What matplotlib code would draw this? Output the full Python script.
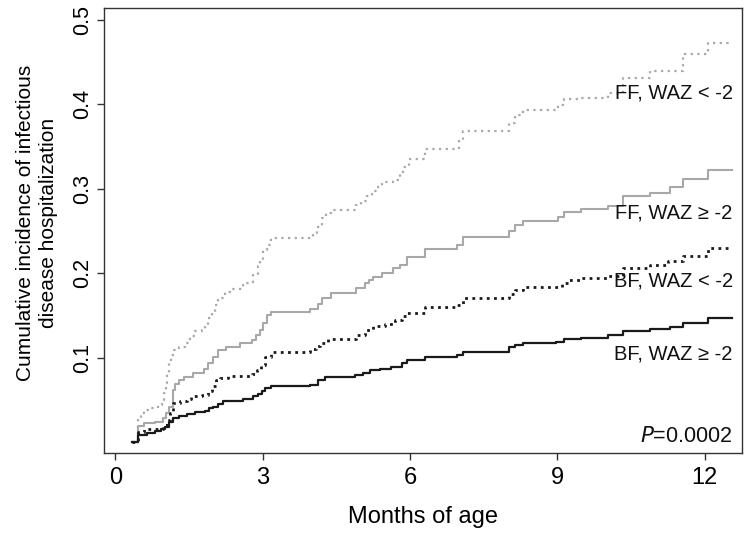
import matplotlib
matplotlib.use("Agg")
import matplotlib.pyplot as plt

plt.rcParams['font.family'] = ['Liberation Sans', 'DejaVu Sans']

# --- data (months of age, cumulative incidence) ---
# BF, WAZ >= -2 (black solid)
t_bf_hi = [0.35, 0.46, 0.64, 0.81, 0.94, 1.02, 1.10, 1.18, 1.29, 1.45,
           1.62, 1.83, 1.90, 1.99, 2.09, 2.20, 2.43, 2.60, 2.81, 2.90,
           2.98, 3.05, 3.18, 3.96, 4.13, 4.27, 4.88, 5.05, 5.19, 5.39,
           5.62, 5.83, 5.93, 6.30, 6.95, 7.08, 8.02, 8.14, 8.30, 8.98,
           9.14, 9.49, 10.04, 10.34, 10.88, 11.29, 11.56, 12.07, 12.55]
v_bf_hi = [0, 0.008, 0.011, 0.013, 0.015, 0.018, 0.024, 0.028, 0.031, 0.033,
           0.035, 0.037, 0.040, 0.042, 0.045, 0.048, 0.049, 0.051, 0.054, 0.057,
           0.060, 0.064, 0.0665, 0.068, 0.0736, 0.0768, 0.0795, 0.082, 0.085, 0.087,
           0.089, 0.093, 0.097, 0.101, 0.103, 0.107, 0.112, 0.115, 0.117, 0.119,
           0.122, 0.123, 0.127, 0.131, 0.134, 0.136, 0.141, 0.147, 0.147]

# BF, WAZ < -2 (black dotted)
t_bf_lo = [0.35, 0.46, 0.59, 0.81, 0.98, 1.06, 1.12, 1.18, 1.32, 1.45,
           1.55, 1.76, 1.89, 1.97, 2.06, 2.13, 2.30, 2.78, 2.88, 2.96,
           3.05, 3.18, 3.96, 4.08, 4.17, 4.34, 4.91, 5.09, 5.25, 5.49,
           5.69, 5.83, 5.93, 6.30, 6.95, 7.08, 8.02, 8.14, 8.30, 9.09,
           9.22, 9.49, 10.04, 10.34, 10.88, 11.26, 11.56, 12.07, 12.55]
v_bf_lo = [0, 0.012, 0.015, 0.016, 0.020, 0.026, 0.034, 0.046, 0.048, 0.051,
           0.0546, 0.056, 0.060, 0.066, 0.0736, 0.076, 0.078, 0.080, 0.085, 0.091,
           0.101, 0.107, 0.110, 0.114, 0.117, 0.122, 0.127, 0.133, 0.137, 0.140,
           0.1447, 0.149, 0.153, 0.160, 0.1627, 0.170, 0.175, 0.180, 0.184, 0.188,
           0.192, 0.194, 0.197, 0.206, 0.210, 0.214, 0.2205, 0.2296, 0.2296]

# FF, WAZ >= -2 (gray solid)
t_ff_hi = [0.35, 0.46, 0.59, 0.81, 0.98, 1.04, 1.10, 1.18, 1.22, 1.29,
           1.39, 1.59, 1.80, 1.89, 1.99, 2.09, 2.26, 2.53, 2.79, 2.87,
           2.95, 3.01, 3.08, 3.18, 3.96, 4.13, 4.20, 4.40, 4.91, 5.09,
           5.16, 5.25, 5.43, 5.66, 5.80, 5.93, 6.30, 6.95, 7.08, 8.02,
           8.14, 8.30, 9.01, 9.14, 9.49, 10.04, 10.34, 10.88, 11.29, 11.56,
           12.07, 12.55]
v_ff_hi = [0, 0.019, 0.022, 0.024, 0.028, 0.034, 0.042, 0.0617, 0.069, 0.0736,
           0.0775, 0.0815, 0.087, 0.093, 0.101, 0.109, 0.113, 0.117, 0.121, 0.127,
           0.133, 0.141, 0.1506, 0.1545, 0.158, 0.164, 0.170, 0.177, 0.182, 0.188,
           0.192, 0.196, 0.2007, 0.206, 0.21, 0.2197, 0.228, 0.233, 0.243, 0.250,
           0.257, 0.262, 0.267, 0.272, 0.276, 0.28, 0.2916, 0.2955, 0.302, 0.311,
           0.3224, 0.3224]

# FF, WAZ < -2 (gray dotted)
t_ff_lo = [0.35, 0.46, 0.52, 0.59, 0.72, 0.86, 0.96, 0.99, 1.03, 1.06,
           1.10, 1.13, 1.20, 1.29, 1.42, 1.52, 1.62, 1.76, 1.83, 1.89,
           1.96, 2.03, 2.09, 2.23, 2.33, 2.60, 2.74, 2.81, 2.91, 2.95,
           3.01, 3.08, 3.18, 4.03, 4.10, 4.20, 4.30, 4.40, 4.91, 5.01,
           5.12, 5.22, 5.32, 5.43, 5.66, 5.80, 5.86, 5.97, 6.30, 6.99,
           7.08, 8.02, 8.14, 8.30, 9.01, 9.14, 9.49, 10.04, 10.34, 10.88,
           11.56, 12.07, 12.55]
v_ff_lo = [0, 0.028, 0.034, 0.038, 0.040, 0.044, 0.050, 0.058, 0.070, 0.0815,
           0.093, 0.103, 0.109, 0.113, 0.117, 0.125, 0.131, 0.133, 0.139, 0.1467,
           0.1545, 0.1625, 0.170, 0.178, 0.181, 0.188, 0.190, 0.198, 0.208, 0.216,
           0.2276, 0.2335, 0.2415, 0.245, 0.255, 0.265, 0.271, 0.275, 0.281, 0.285,
           0.291, 0.2967, 0.3026, 0.3085, 0.3105, 0.3185, 0.326, 0.335, 0.347, 0.358,
           0.368, 0.3777, 0.3875, 0.3935, 0.3994, 0.406, 0.407, 0.413, 0.431, 0.439,
           0.460, 0.4725, 0.4725]

group_labels = ["FF, WAZ < -2", "FF, WAZ \u2265 -2", "BF, WAZ < -2", "BF, WAZ \u2265 -2"]
label_y = [0.4136, 0.2714, 0.1909, 0.1044]
x_ticks = [0, 3, 6, 9, 12]
y_ticks = [0.1, 0.2, 0.3, 0.4, 0.5]

GRAY = "#a8a8a8"
BLACK = "#1a1a1a"

fig = plt.figure(figsize=(7.51, 5.37), dpi=100)
ax = fig.add_axes([104 / 751, 1 - 453 / 537, 638 / 751, 445 / 537])

# step curves
ax.plot(t_ff_lo, v_ff_lo, drawstyle="steps-post", color=GRAY, lw=1.6,
        linestyle=(0, (1.0, 2.0)))
ax.plot(t_ff_hi, v_ff_hi, drawstyle="steps-post", color=GRAY, lw=1.5)
ax.plot(t_bf_lo, v_bf_lo, drawstyle="steps-post", color=BLACK, lw=2.0,
        linestyle=(0, (1.0, 1.6)))
ax.plot(t_bf_hi, v_bf_hi, drawstyle="steps-post", color=BLACK, lw=1.6)

# curve labels
for lab, yy in zip(group_labels, label_y):
    ax.text(12.57, yy, lab, ha="right", va="center", fontsize=14.5, color="#111111")
ax.text(12.57, 0.006, "$\\it{P}$=0.0002", ha="right", va="center",
        fontsize=15.5, color="#111111")

ax.set_xlim(-0.23, 12.76)
ax.set_ylim(-0.013, 0.514)
ax.set_xticks(x_ticks)
ax.set_yticks(y_ticks)
ax.set_xticklabels([str(x) for x in x_ticks], fontsize=17)
ax.set_yticklabels([f"{y:.1f}" for y in y_ticks], fontsize=15.5, rotation=90,
                   va="center")
ax.tick_params(axis="both", direction="out", length=5, width=1, color="#333333")
ax.tick_params(axis="x", pad=5)
ax.tick_params(axis="y", pad=2.5)
for s in ax.spines.values():
    s.set_color("#333333")
    s.set_linewidth(1)

fig.text(423 / 751, 1 - 517 / 537, "Months of age", ha="center", va="center",
         fontsize=17)
fig.text(37 / 751, 1 - 223 / 537,
         "Cumulative incidence of infectious\ndisease hospitalization",
         ha="center", va="center", rotation=90, multialignment="center",
         fontsize=15, linespacing=1.25)

fig.savefig("out.png", dpi=100)
